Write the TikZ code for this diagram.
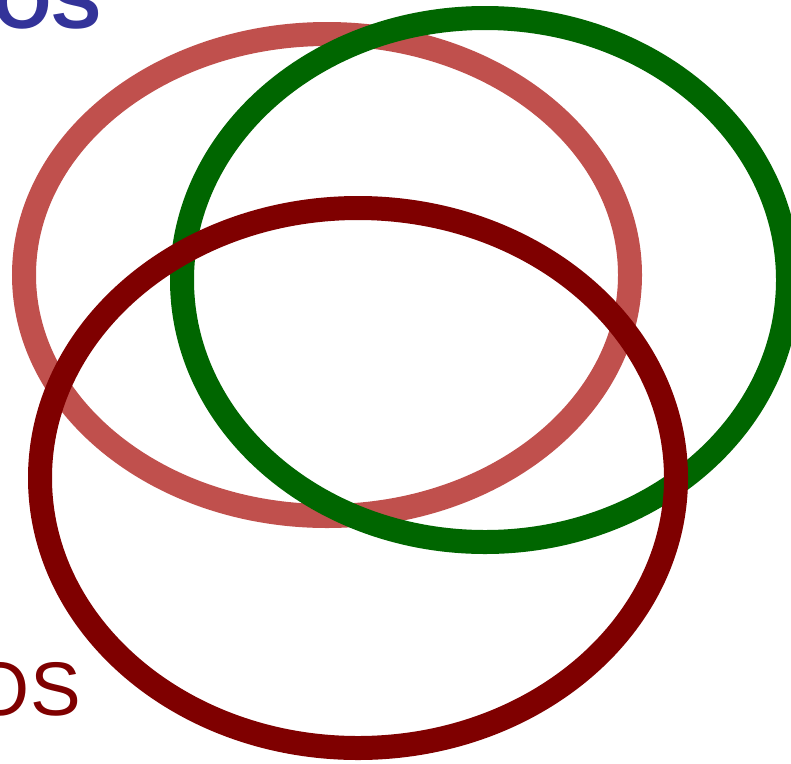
\documentclass[tikz,border=0pt]{standalone}
\usepackage{fontspec}
\setmainfont{Liberation Sans}
\definecolor{ringpink}{HTML}{C0504D}
\definecolor{ringgreen}{HTML}{006600}
\definecolor{ringdark}{HTML}{7F0000}
\definecolor{labelblue}{HTML}{333399}
\begin{document}
\begin{tikzpicture}[x=1pt,y=-1pt,
  ring/.style={line width=24pt},
  lbl/.style={anchor=base east,inner sep=0pt,font=\fontsize{76}{76}\selectfont}]
\useasboundingbox (0,0) rectangle (791,763);
\draw[ring,ringpink] (327,275) ellipse [x radius=303, y radius=241];
\draw[ring,ringgreen] (485,280) ellipse [x radius=303, y radius=262];
\draw[ring,ringdark] (358,478) ellipse [x radius=318, y radius=270];
\node[lbl,text=labelblue,font=\fontsize{75}{75}\selectfont\bfseries] (t1) at (102,28) {OS};
\node[lbl,text=ringdark] (t2) at (81,715) {OS};
\end{tikzpicture}
\end{document}
